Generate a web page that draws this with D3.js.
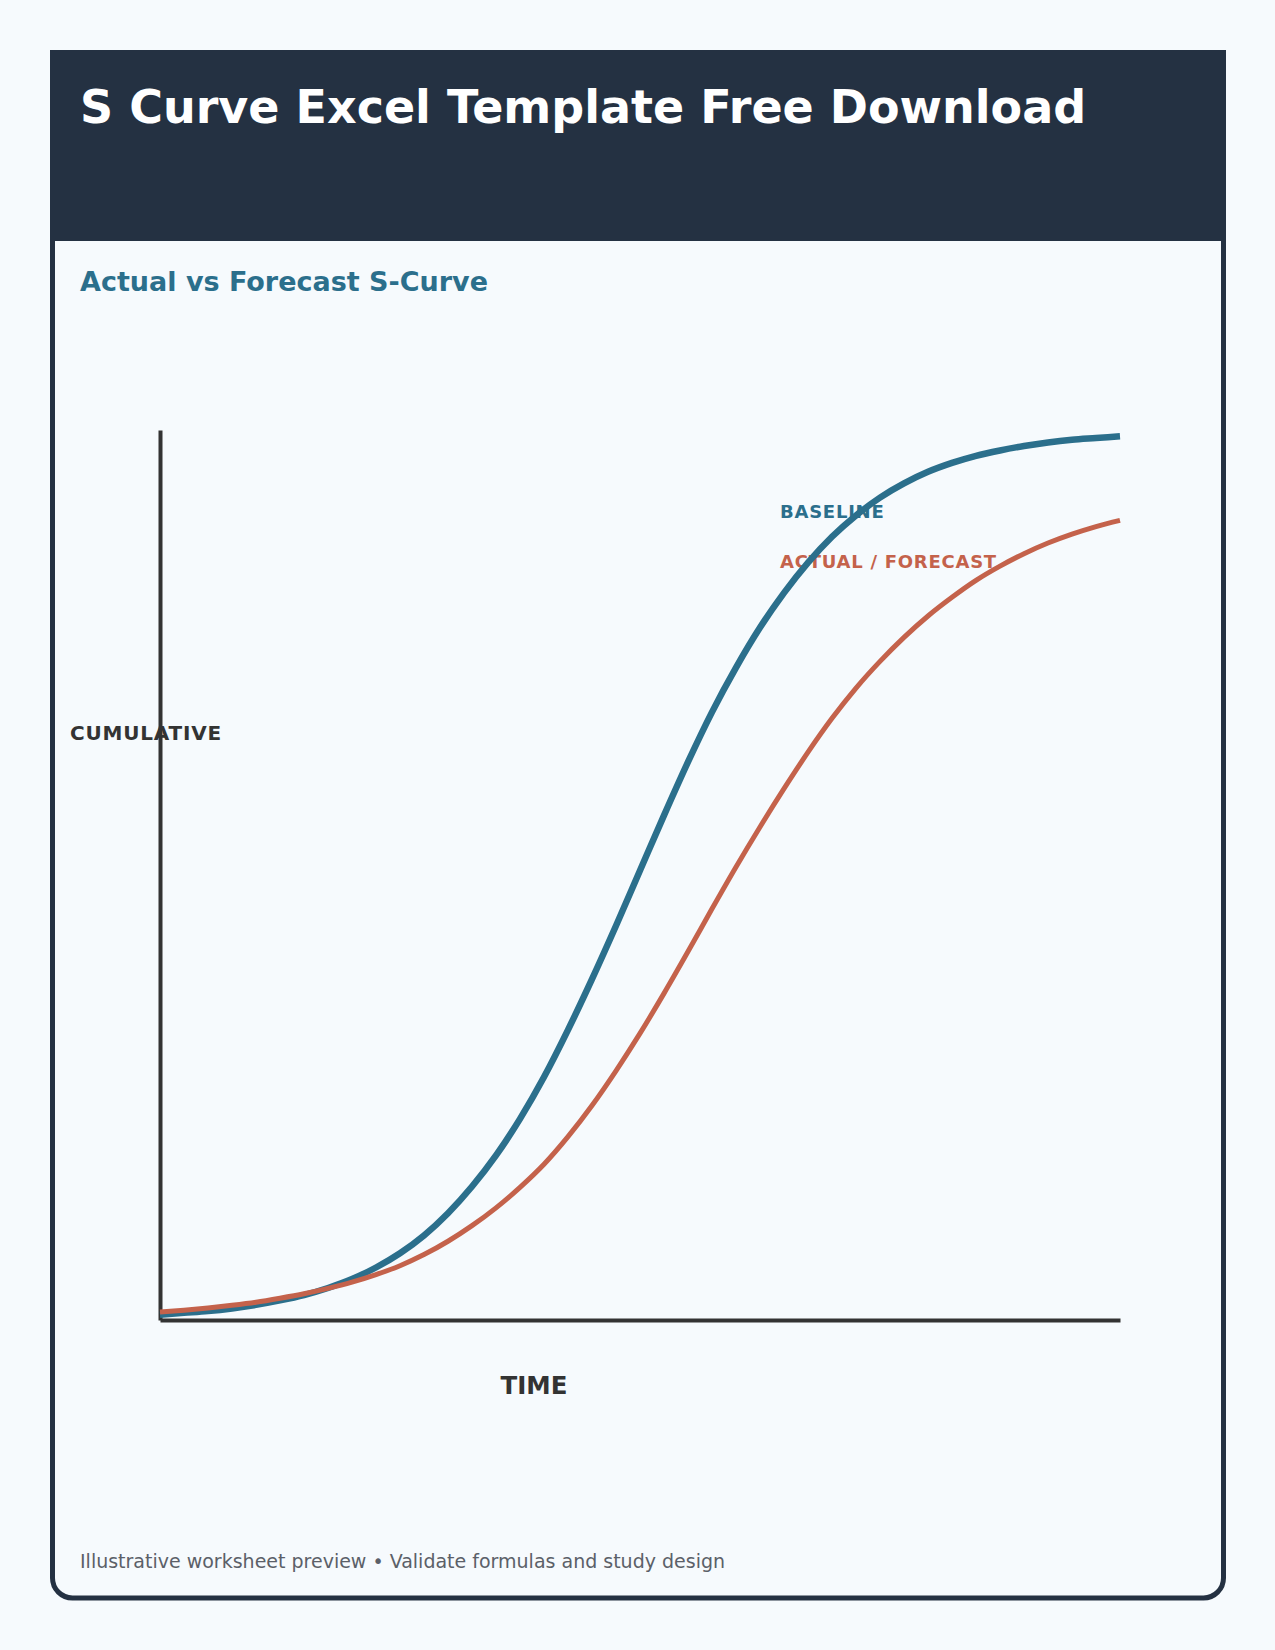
<!DOCTYPE html>
<html>
<head>
<meta charset="utf-8">
<script src="https://cdn.jsdelivr.net/npm/d3@7"></script>
<style>
  body { margin: 0; background: #f6fafd; }
  svg { display: block; font-family: "DejaVu Sans", sans-serif; }
</style>
</head>
<body>
<div id="chart"></div>
<script>
// Time periods and cumulative progress (% of total)
const periods = d3.range(0, 41);
const baseline = [0.6, 0.8, 1.0, 1.3, 1.7, 2.2, 2.8, 3.6, 4.6, 5.9,
                  7.5, 9.5, 12.0, 15.0, 18.5, 22.6, 27.3, 32.6, 38.3, 44.3,
                  50.5, 56.7, 62.7, 68.3, 73.3, 77.8, 81.7, 85.1, 88.0, 90.4,
                  92.4, 94.0, 95.3, 96.3, 97.1, 97.7, 98.2, 98.6, 98.9, 99.1, 99.3];
const actual = [0.9, 1.1, 1.35, 1.65, 2.0, 2.45, 2.95, 3.55, 4.25, 5.1,
                6.1, 7.35, 8.85, 10.6, 12.6, 14.9, 17.5, 20.6, 24.1, 28.0,
                32.2, 36.7, 41.4, 46.2, 50.9, 55.4, 59.7, 63.8, 67.6, 71.0,
                74.0, 76.7, 79.1, 81.2, 83.1, 84.7, 86.1, 87.3, 88.3, 89.15, 89.85];
const seriesNames = ["BASELINE", "ACTUAL / FORECAST"];

const W = 1275, H = 1650;
const blue = "#2b6f8c", red = "#c4624b", ink = "#333333", navy = "#243142";

const svg = d3.select("#chart").append("svg")
    .attr("width", W)
    .attr("height", H);

// Card with header band
svg.append("rect")
    .attr("x", 52.5).attr("y", 52.5)
    .attr("width", 1171).attr("height", 1545.5)
    .attr("rx", 20)
    .attr("fill", "#f6fafd")
    .attr("stroke", navy)
    .attr("stroke-width", 5);
svg.append("rect")
    .attr("x", 50).attr("y", 50)
    .attr("width", 1176).attr("height", 191)
    .attr("fill", navy);

svg.append("text")
    .attr("x", 80).attr("y", 123)
    .attr("fill", "#ffffff")
    .style("font-size", "46px")
    .style("font-weight", "bold")
    .text("S Curve Excel Template Free Download");

svg.append("text")
    .attr("x", 80).attr("y", 291)
    .attr("fill", blue)
    .style("font-size", "27px")
    .style("font-weight", "bold")
    .text("Actual vs Forecast S-Curve");

// Scales
const x = d3.scaleLinear().domain([0, 40]).range([160, 1120]);
const y = d3.scaleLinear().domain([0, 100]).range([1320, 430]);

// Axis lines without ticks
const xAxis = svg.append("g")
    .attr("transform", `translate(0,${y(0)})`)
    .call(d3.axisBottom(x).ticks(0).tickSizeOuter(0));
const yAxis = svg.append("g")
    .attr("transform", `translate(${x(0)},0)`)
    .call(d3.axisLeft(y).ticks(0).tickSizeOuter(0));
[xAxis, yAxis].forEach(g => g.select(".domain")
    .attr("stroke", ink)
    .attr("stroke-width", 4));

// Axis titles
svg.append("text")
    .attr("x", 70).attr("y", 740)
    .attr("fill", ink)
    .style("font-size", "20px")
    .style("font-weight", "bold")
    .style("letter-spacing", "0.8px")
    .text("CUMULATIVE");

svg.append("text")
    .attr("x", 534).attr("y", 1394)
    .attr("fill", ink)
    .attr("text-anchor", "middle")
    .style("font-size", "24.5px")
    .style("font-weight", "bold")
    .text("TIME");

// Series labels (drawn under the curves)
svg.append("text")
    .attr("x", 780).attr("y", 518)
    .attr("fill", blue)
    .style("font-size", "18px")
    .style("font-weight", "bold")
    .style("letter-spacing", "0.75px")
    .text(seriesNames[0]);
svg.append("text")
    .attr("x", 780).attr("y", 568)
    .attr("fill", red)
    .style("font-size", "18px")
    .style("font-weight", "bold")
    .style("letter-spacing", "0.75px")
    .text(seriesNames[1]);

// Curves
const line = d3.line()
    .curve(d3.curveMonotoneX)
    .x((d, i) => x(periods[i]))
    .y(d => y(d));

svg.append("path")
    .datum(baseline)
    .attr("fill", "none")
    .attr("stroke", blue)
    .attr("stroke-width", 6.5)
    .attr("d", line);

svg.append("path")
    .datum(actual)
    .attr("fill", "none")
    .attr("stroke", red)
    .attr("stroke-width", 5)
    .attr("d", line);

// Footer note
svg.append("text")
    .attr("x", 80).attr("y", 1568)
    .attr("fill", "#5b6068")
    .style("font-size", "19px")
    .text("Illustrative worksheet preview \u2022 Validate formulas and study design");
</script>
</body>
</html>
